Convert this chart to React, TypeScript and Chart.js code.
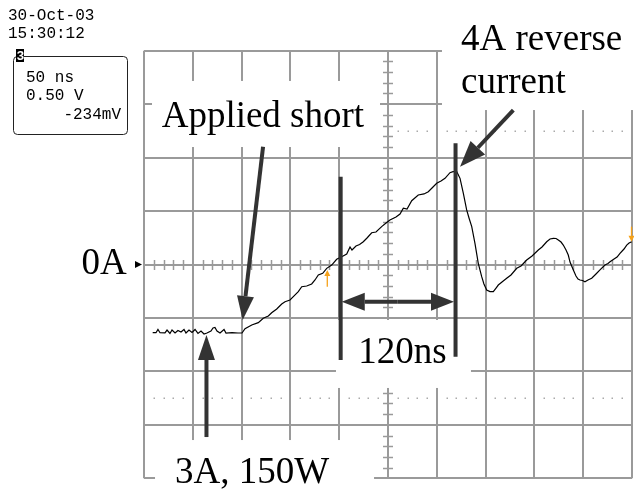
import React, { useEffect, useRef } from "react";
import { Chart, registerables } from "chart.js";

Chart.register(...registerables);

// ---- data (time in ns, signal in V, 50 ns/div, 0.50 V/div) ----
const timeNs: number[] = [
  8.9, 12.3, 14.3, 16.4, 21.5, 23.6, 26.6, 28.7, 31.8, 34.8, 37.9, 41, 43, 46.1, 49.2, 52.3, 55.3, 58.4,
  61.5, 64.5, 68.6, 70.7, 72.7, 74.8, 77.9, 82, 84, 90.2, 96.3, 100.4,
  103.5, 110.4, 117.1, 122.2, 127.4, 130.8, 136, 141.1, 144.5, 149.6, 153, 158.1, 161.6, 166.7, 171.8,
  175.2, 178.6, 183.1, 187.2, 192.3, 197.4, 202.6, 207.7, 211.1, 213.1, 217.2, 220.9, 224.7, 228.5,
  233.3, 237.7, 243.5, 248, 252, 258.2, 262.3, 265.7, 269.5, 274.3, 281, 286.9, 291.3, 295.1, 299.9,
  304.3, 308.4, 313.5, 316.6, 320.4, 323.8, 327.2, 330.6, 333, 335.8, 339.1, 342.5, 346, 348.3, 351.1,
  354.5, 357.9, 360.7, 363, 366.8, 371.6, 376, 381.9, 386.3, 392.1, 397.6, 404, 407.8, 412.6, 416,
  419.4, 422.2, 424.5, 427.3, 429.6, 432.4, 434.7, 436.5, 439.9, 442.6, 444.7, 446.7, 449.3, 451.8,
  454.9, 458.7, 463.1, 467.2, 472.3, 475.4, 477.5, 481.6, 484.7, 487.7, 491.8, 494.6, 497, 499.7,
];
const signalV: number[] = [
  -0.638, -0.638, -0.608, -0.638, -0.64, -0.613, -0.645, -0.613, -0.641, -0.617, -0.631, -0.608, -0.641,
  -0.613, -0.636, -0.608, -0.645, -0.622, -0.65, -0.641, -0.622, -0.594, -0.589, -0.622, -0.641, -0.608,
  -0.641, -0.638, -0.641, -0.641,
  -0.6, -0.566, -0.544, -0.503, -0.482, -0.451, -0.416, -0.37, -0.348, -0.332, -0.301, -0.254, -0.208,
  -0.201, -0.182, -0.145, -0.098, -0.082, -0.036, -0.005, 0.049, 0.073, 0.098, 0.164, 0.136, 0.173, 0.187,
  0.213, 0.248, 0.297, 0.304, 0.354, 0.388, 0.416, 0.444, 0.472, 0.526, 0.519, 0.597, 0.65, 0.66, 0.681,
  0.716, 0.76, 0.781, 0.806, 0.859, 0.868, 0.868, 0.806, 0.666, 0.51, 0.435, 0.354, 0.198, 0.011, -0.114,
  -0.182, -0.239, -0.253, -0.254, -0.22, -0.192, -0.164, -0.129, -0.098, -0.036, -0.014, 0.042, 0.08,
  0.136, 0.164, 0.213, 0.239, 0.245, 0.243, 0.229, 0.21, 0.182, 0.136, 0.089, 0.023, -0.051, -0.108,
  -0.136, -0.145, -0.15, -0.161, -0.145, -0.129, -0.089, -0.051, -0.005, 0.009, 0.026, 0.051, 0.07,
  0.105, 0.145, 0.182, 0.201, 0.213,
];

// grid (major divisions) and minor ticks
const xMajorNs: number[] = [0, 50, 100, 150, 200, 250, 300, 350, 400, 450, 500];
const yMajorV: number[] = [-2, -1.5, -1, -0.5, 0, 0.5, 1, 1.5, 2];
const dottedLevelsV: number[] = [1.25, -1.25];

// header texts
const headerDate = "30-Oct-03";
const headerTime = "15:30:12";
const channelLabel = "3";
const channelLines: string[] = ["50 ns", "0.50 V", "-234mV"];

// annotation texts
const zeroLabel = "0A";
const shortLabel = "Applied short";
const reverseLabel: string[] = ["4A reverse", "current"];
const intervalLabel = "120ns";
const loadLabel = "3A, 150W";

// white masks behind labels: [x0, x1, y0, y1] in ns / V
const masks: number[][] = [
  [8.2, 241.8, 1.717, 1.099],
  [305.3, 510, 2.6, 1.445],
  [196.7, 335, -0.519, -1.155],
  [11.3, 235.7, -1.642, -2.2],
];

const GRID = "#9a9a9a";
const INK = "#333333";
const ORANGE = "#f6a21a";
const SERIF = '37px "Liberation Serif", "Times New Roman", serif';
const MONO = '16px "Liberation Mono", "DejaVu Sans Mono", monospace';

function arrowHead(ctx: CanvasRenderingContext2D, x1: number, y1: number, x2: number, y2: number, len: number, hw: number) {
  const a = Math.atan2(y2 - y1, x2 - x1);
  const bx = x2 - len * Math.cos(a);
  const by = y2 - len * Math.sin(a);
  const nx = -Math.sin(a);
  const ny = Math.cos(a);
  ctx.beginPath();
  ctx.moveTo(x2, y2);
  ctx.lineTo(bx + nx * hw, by + ny * hw);
  ctx.lineTo(bx - nx * hw, by - ny * hw);
  ctx.closePath();
  ctx.fill();
  return [bx, by];
}

function arrow(ctx: CanvasRenderingContext2D, x1: number, y1: number, x2: number, y2: number, len: number, hw: number, lw: number, color: string) {
  ctx.save();
  ctx.strokeStyle = color;
  ctx.fillStyle = color;
  ctx.lineWidth = lw;
  const [bx, by] = arrowHead(ctx, x1, y1, x2, y2, len, hw);
  ctx.beginPath();
  ctx.moveTo(x1, y1);
  ctx.lineTo(bx, by);
  ctx.stroke();
  ctx.restore();
}

const scopePlugin = {
  id: "scope",
  beforeDatasetsDraw(chart: any) {
    const { ctx, chartArea, scales } = chart;
    const { left, right, top, bottom } = chartArea;
    const X = (v: number) => scales.x.getPixelForValue(v);
    const Y = (v: number) => scales.y.getPixelForValue(v);
    ctx.save();
    ctx.strokeStyle = GRID;
    ctx.lineWidth = 2;
    ctx.beginPath();
    xMajorNs.forEach((t) => {
      const px = Math.round(X(t));
      ctx.moveTo(px, top);
      ctx.lineTo(px, bottom);
    });
    yMajorV.forEach((v) => {
      const py = Math.round(Y(v));
      ctx.moveTo(left, py);
      ctx.lineTo(right, py);
    });
    ctx.stroke();
    // minor ticks on centre axes
    ctx.lineWidth = 1.5;
    ctx.beginPath();
    const cy = Math.round(Y(0));
    const cx = Math.round(X(250));
    for (let t = 0; t <= 500; t += 10) {
      if (t % 50 === 0) continue;
      const px = Math.round(X(t)) + 0.5;
      ctx.moveTo(px, cy - 5);
      ctx.lineTo(px, cy + 5);
    }
    for (let v = -2; v <= 2.0001; v += 0.1) {
      const r = Math.round(v * 10);
      if (r % 5 === 0) continue;
      const py = Math.round(Y(v)) + 0.5;
      ctx.moveTo(cx - 5, py);
      ctx.lineTo(cx + 5, py);
    }
    ctx.stroke();
    // dotted levels
    ctx.fillStyle = "#aaaaaa";
    dottedLevelsV.forEach((lv) => {
      const py = Math.round(Y(lv));
      for (let t = 0; t <= 500; t += 10) {
        if (t % 50 === 0) continue;
        ctx.fillRect(Math.round(X(t)) - 0.5, py - 0.5, 1.5, 1.5);
      }
    });
    // white masks behind labels
    ctx.fillStyle = "#ffffff";
    masks.forEach(([x0, x1, y0, y1]) => {
      const a = X(x0), b = X(x1), c = Y(y0), d = Y(y1);
      ctx.fillRect(a, c, b - a, d - c);
    });
    ctx.restore();
  },
  afterDatasetsDraw(chart: any) {
    const { ctx, chartArea, scales } = chart;
    const X = (v: number) => scales.x.getPixelForValue(v);
    const Y = (v: number) => scales.y.getPixelForValue(v);
    ctx.save();
    // header
    ctx.fillStyle = "#000";
    ctx.font = MONO;
    ctx.textBaseline = "alphabetic";
    ctx.textAlign = "left";
    ctx.fillText(headerDate, 8, 20);
    ctx.fillText(headerTime, 8, 38);
    ctx.strokeStyle = "#222";
    ctx.lineWidth = 1;
    ctx.beginPath();
    ctx.roundRect(13.5, 56.5, 114, 78, 4);
    ctx.stroke();
    ctx.fillStyle = "#000";
    ctx.fillRect(16, 49, 8, 13);
    ctx.fillStyle = "#fff";
    ctx.font = 'bold 13px "Liberation Mono", monospace';
    ctx.fillText(channelLabel, 16.5, 60);
    ctx.fillStyle = "#000";
    ctx.font = MONO;
    ctx.fillText(channelLines[0], 26, 82);
    ctx.fillText(channelLines[1], 26, 100);
    ctx.textAlign = "right";
    ctx.fillText(channelLines[2], 121, 119);
    // zero marker
    const zy = Y(0);
    ctx.beginPath();
    ctx.moveTo(chartArea.left - 2, zy);
    ctx.lineTo(chartArea.left - 9, zy - 3.5);
    ctx.lineTo(chartArea.left - 9, zy + 3.5);
    ctx.closePath();
    ctx.fill();
    // serif labels
    ctx.font = SERIF;
    ctx.textAlign = "right";
    ctx.fillText(zeroLabel, X(-17.7), Y(-0.089));
    ctx.textAlign = "left";
    ctx.fillText(shortLabel, X(18.1), Y(1.289));
    ctx.fillText(reverseLabel[0], X(324.8), Y(2.007));
    ctx.fillText(reverseLabel[1], X(324.8), Y(1.607));
    ctx.fillText(intervalLabel, X(219.6), Y(-0.924));
    ctx.fillText(loadLabel, X(31.8), Y(-2.047));
    // thick annotation lines
    ctx.strokeStyle = INK;
    ctx.lineWidth = 4;
    ctx.beginPath();
    ctx.moveTo(X(201.5), Y(0.821));
    ctx.lineTo(X(201.5), Y(-0.893));
    ctx.moveTo(X(319.2), Y(1.134));
    ctx.lineTo(X(319.2), Y(-0.862));
    ctx.stroke();
    arrow(ctx, X(122), Y(1.102), X(101.1), Y(-0.519), 24, 8.5, 4, INK);
    arrow(ctx, X(378.4), Y(1.445), X(323.8), Y(0.915), 26, 10, 4, INK);
    arrow(ctx, X(64), Y(-1.614), X(64), Y(-0.659), 25, 8.5, 4, INK);
    // double arrow 120ns
    const ay = Y(-0.348);
    arrow(ctx, X(260), ay, X(202.6), ay, 23, 9, 4, INK);
    arrow(ctx, X(260), ay, X(317.6), ay, 23, 9, 4, INK);
    // orange trigger markers
    arrow(ctx, X(187.8), Y(-0.208), X(187.8), Y(-0.051), 6, 3, 1.3, ORANGE);
    arrow(ctx, X(499.5), Y(0.354), X(499.5), Y(0.213), 6, 3, 1.3, ORANGE);
    ctx.restore();
  },
};

export default function App() {
  const ref = useRef<HTMLCanvasElement | null>(null);
  useEffect(() => {
    document.body.style.margin = "0";
    const canvas = ref.current;
    if (!canvas) return;
    const points = timeNs.map((t, i) => ({ x: t, y: signalV[i] }));
    const chart = new Chart(canvas, {
      type: "line",
      data: {
        datasets: [
          {
            data: points,
            borderColor: "#000000",
            borderWidth: 1.2,
            pointRadius: 0,
            tension: 0,
            fill: false,
          },
        ],
      },
      options: {
        animation: false,
        responsive: false,
        maintainAspectRatio: false,
        devicePixelRatio: 1,
        layout: { padding: { left: 144, right: 2, top: 50.7, bottom: 12.7 } },
        plugins: { legend: { display: false }, tooltip: { enabled: false } },
        events: [],
        scales: {
          x: { type: "linear", min: 0, max: 500, display: false },
          y: { type: "linear", min: -2, max: 2, display: false },
        },
      },
      plugins: [scopePlugin],
    });
    return () => chart.destroy();
  }, []);
  return <canvas ref={ref} width={634} height={491} style={{ display: "block", width: 634, height: 491 }} />;
}
